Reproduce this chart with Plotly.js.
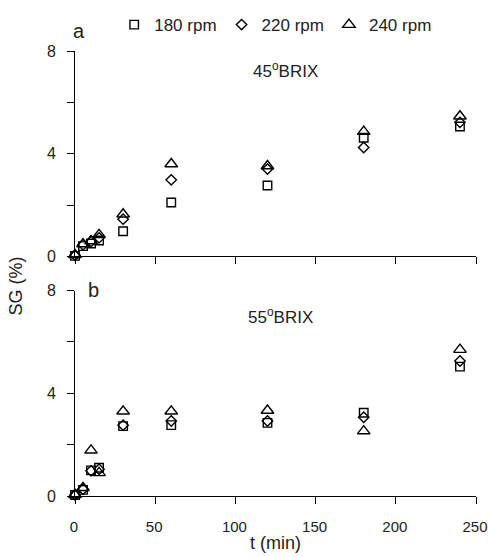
<!DOCTYPE html>
<html>
<head>
<meta charset="utf-8">
<script src="https://cdn.plot.ly/plotly-3.0.1.min.js"></script>
<style>html,body{margin:0;padding:0;background:#fff;}#chart{width:488px;height:557px;}</style>
</head>
<body>
<div id="chart"></div>
<script>
// Time points (min)
const tMin = [0, 5, 10, 15, 30, 60, 120, 180, 240];

// Panel a: 45°BRIX
const a180 = [0.02, 0.40, 0.50, 0.62, 0.98, 2.10, 2.76, 4.62, 5.06];
const a220 = [0.04, 0.45, 0.58, 0.72, 1.45, 2.98, 3.40, 4.24, 5.22];
const a240 = [0.06, 0.48, 0.60, 0.84, 1.64, 3.60, 3.52, 4.86, 5.46];

// Panel b: 55°BRIX
const b180 = [0.04, 0.24, 1.00, 1.10, 2.72, 2.76, 2.85, 3.24, 5.04];
const b220 = [0.04, 0.26, 0.98, 1.04, 2.76, 2.92, 2.92, 3.07, 5.26];
const b240 = [0.05, 0.32, 1.78, 0.90, 3.30, 3.30, 3.33, 2.53, 5.70];

const seriesNames = ['180 rpm', '220 rpm', '240 rpm'];
const symbols = ['square-open', 'diamond-open', 'triangle-up-open'];
const markerSizes = [8.5, 8, 11];
const xTicks = [0, 50, 100, 150, 200, 250];
const yTicks = [0, 2, 4, 6, 8];
const yTickText = ['0', '', '4', '', '8'];
const panelLabels = ['a', 'b'];
const panelTitles = ['45<sup>o</sup>BRIX', '55<sup>o</sup>BRIX'];

const font = 'Liberation Sans, Arial, Helvetica, sans-serif';
const txt = '#222';
const aSeries = [a180, a220, a240];
const bSeries = [b180, b220, b240];

const traces = [];
aSeries.forEach((ys, i) => {
  traces.push({
    x: tMin, y: ys, type: 'scatter', mode: 'markers', name: seriesNames[i],
    xaxis: 'x', yaxis: 'y', cliponaxis: false, showlegend: true,
    marker: {symbol: symbols[i], size: markerSizes[i], color: '#000', line: {color: '#000', width: 1.4}}
  });
});
bSeries.forEach((ys, i) => {
  traces.push({
    x: tMin, y: ys, type: 'scatter', mode: 'markers', name: seriesNames[i],
    xaxis: 'x2', yaxis: 'y2', cliponaxis: false, showlegend: false,
    marker: {symbol: symbols[i], size: markerSizes[i], color: '#000', line: {color: '#000', width: 1.4}}
  });
});

const axisCommon = {
  range: [0, 250], showline: true, linecolor: '#000', linewidth: 1,
  ticks: 'outside', ticklen: 7, tickcolor: '#000', tickwidth: 1,
  showgrid: false, zeroline: false, tickvals: xTicks,
  ticklabelstandoff: 10, ticklabelshift: -1, ticklabeloverflow: 'allow', automargin: false,
  tickfont: {family: font, size: 15, color: txt}
};
const yCommon = {
  range: [0, 8], showline: true, linecolor: '#000', linewidth: 1,
  ticks: 'outside', ticklen: 7, tickcolor: '#000', tickwidth: 1,
  showgrid: false, zeroline: false, tickvals: yTicks, ticktext: yTickText,
  ticklabelstandoff: 8, automargin: false,
  tickfont: {family: font, size: 16, color: txt}
};

const layout = {
  width: 488, height: 557,
  margin: {l: 75, r: 12, t: 51, b: 61, autoexpand: false},
  paper_bgcolor: '#fff', plot_bgcolor: '#fff',
  font: {family: font, color: txt},
  showlegend: true,
  legend: {
    orientation: 'h', xref: 'container', yref: 'container',
    x: 0.234, xanchor: 'left', y: 0.955, yanchor: 'middle',
    font: {family: font, size: 17, color: txt}, itemwidth: 30,
    bgcolor: 'rgba(0,0,0,0)'
  },
  xaxis: Object.assign({}, axisCommon, {anchor: 'y', showticklabels: false}),
  yaxis: Object.assign({}, yCommon, {domain: [0.5385, 1], anchor: 'x'}),
  xaxis2: Object.assign({}, axisCommon, {anchor: 'y2', showticklabels: true,
    title: {text: 't (min)', font: {family: font, size: 18, color: txt}, standoff: 2}}),
  yaxis2: Object.assign({}, yCommon, {domain: [0, 0.4615], anchor: 'x2'}),
  annotations: [
    {text: panelLabels[0], xref: 'paper', yref: 'paper', x: 0.011, y: 1.045, xanchor: 'center', yanchor: 'middle', showarrow: false, font: {family: font, size: 20, color: txt}},
    {text: panelLabels[1], xref: 'paper', yref: 'paper', x: 0.047, y: 0.462, xanchor: 'center', yanchor: 'middle', showarrow: false, font: {family: font, size: 20, color: txt}},
    {text: panelTitles[0], xref: 'x', yref: 'y', x: 131, y: 7.25, xanchor: 'center', yanchor: 'middle', showarrow: false, font: {family: font, size: 17, color: txt}},
    {text: panelTitles[1], xref: 'x2', yref: 'y2', x: 128, y: 7.0, xanchor: 'center', yanchor: 'middle', showarrow: false, font: {family: font, size: 17, color: txt}},
    {text: 'SG (%)', xref: 'paper', yref: 'paper', x: -0.147, y: 0.471, xanchor: 'center', yanchor: 'middle', textangle: -90, showarrow: false, font: {family: font, size: 18, color: txt}}
  ]
};

Plotly.newPlot('chart', traces, layout, {displayModeBar: false, staticPlot: true});
</script>
</body>
</html>
